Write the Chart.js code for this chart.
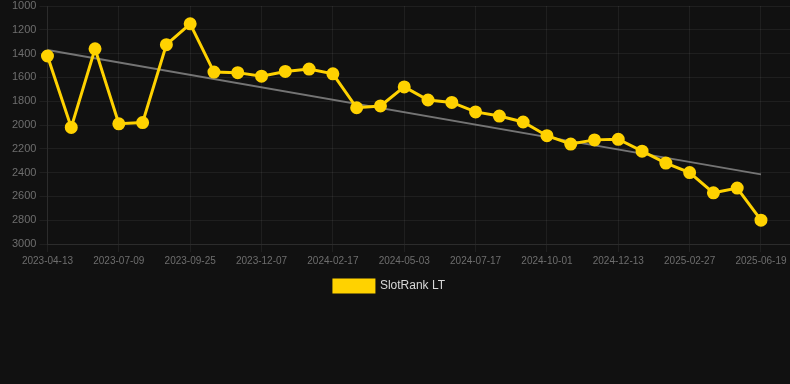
<!DOCTYPE html>
<html>
<head>
<meta charset="utf-8">
<script src="https://cdn.jsdelivr.net/npm/chart.js@4/dist/chart.umd.min.js"></script>
<style>
  html, body { margin: 0; padding: 0; background: #111111; overflow: hidden; }
  #wrap { position: relative; width: 790px; height: 302px; }
</style>
</head>
<body>
<div id="wrap"><canvas id="c"></canvas></div>
<script>
const dateLabels = [
  '2023-04-13','2023-05-12','2023-06-10','2023-07-09','2023-08-04','2023-08-30',
  '2023-09-25','2023-10-19','2023-11-13','2023-12-07','2023-12-31','2024-01-24',
  '2024-02-17','2024-03-12','2024-04-08','2024-05-03','2024-05-28','2024-06-22',
  '2024-07-17','2024-08-11','2024-09-06','2024-10-01','2024-10-25','2024-11-19',
  '2024-12-13','2025-01-08','2025-02-02','2025-02-27','2025-04-06','2025-05-13',
  '2025-06-19'
];
const rankValues = [
  1420, 2020, 1360, 1990, 1980, 1325, 1150, 1555, 1560, 1590, 1550, 1530,
  1570, 1855, 1840, 1680, 1790, 1810, 1890, 1925, 1975, 2090, 2160, 2125,
  2120, 2220, 2320, 2400, 2570, 2530, 2800
];
const trendStart = 1370;
const trendEnd = 2415;
const yTicks = [1000, 1200, 1400, 1600, 1800, 2000, 2200, 2400, 2600, 2800, 3000];

const mainPoints = rankValues.map((v, i) => ({ x: i, y: v }));
const trendPoints = [{ x: 0, y: trendStart }, { x: rankValues.length - 1, y: trendEnd }];

const legendShift = {
  id: 'legendShift',
  afterLayout(chart) {
    const lg = chart.legend;
    if (lg) {
      lg.left -= 10;
      lg.right -= 10;
      if (lg.adjustHitBoxes) lg.adjustHitBoxes();
    }
  }
};

new Chart(document.getElementById('c'), {
  type: 'line',
  plugins: [legendShift],
  data: {
    datasets: [
      {
        label: 'SlotRank LT',
        data: mainPoints,
        borderColor: 'rgb(255,210,0)',
        backgroundColor: 'rgb(255,210,0)',
        pointBackgroundColor: 'rgb(255,210,0)',
        pointBorderColor: 'rgb(255,210,0)',
        borderWidth: 3,
        pointRadius: 5,
        tension: 0,
        clip: false,
        order: 1
      },
      {
        label: 'trend',
        data: trendPoints,
        borderColor: 'rgba(150,150,150,0.75)',
        borderWidth: 2,
        pointRadius: 0,
        tension: 0,
        clip: false,
        order: 2
      }
    ]
  },
  options: {
    responsive: true,
    maintainAspectRatio: false,
    animation: false,
    layout: { autoPadding: false, padding: { left: 9, right: 0, top: 0, bottom: 0 } },
    plugins: {
      legend: {
        position: 'bottom',
        labels: {
          color: '#d8d8d8',
          font: { family: 'Liberation Sans, Arial, sans-serif', size: 12 },
          boxWidth: 40,
          boxHeight: 12,
          filter: (item) => item.text !== 'trend'
        }
      },
      tooltip: { enabled: false }
    },
    scales: {
      x: {
        type: 'linear',
        min: 0,
        max: 31.22,
        grid: { color: 'rgba(255,255,255,0.06)', tickColor: 'rgba(255,255,255,0.06)' },
        border: { color: 'rgba(255,255,255,0.06)' },
        ticks: {
          stepSize: 3,
          includeBounds: false,
          autoSkip: false,
          maxRotation: 0,
          color: '#6e6e6e',
          font: { family: 'Liberation Sans, Arial, sans-serif', size: 10 },
          callback: (v) => Number.isInteger(v) && dateLabels[v] ? dateLabels[v] : ''
        }
      },
      y: {
        reverse: true,
        min: 1000,
        max: 3000,
        afterBuildTicks: (axis) => { axis.ticks = yTicks.map(v => ({ value: v })); },
        afterFit: (scale) => { scale.paddingTop = 6; },
        grid: { color: 'rgba(255,255,255,0.06)', tickColor: 'rgba(255,255,255,0.06)' },
        border: { color: 'rgba(255,255,255,0.06)' },
        ticks: {
          color: '#6e6e6e',
          font: { family: 'Liberation Sans, Arial, sans-serif', size: 11 },
          callback: (v) => String(v)
        }
      }
    }
  }
});
</script>
</body>
</html>
